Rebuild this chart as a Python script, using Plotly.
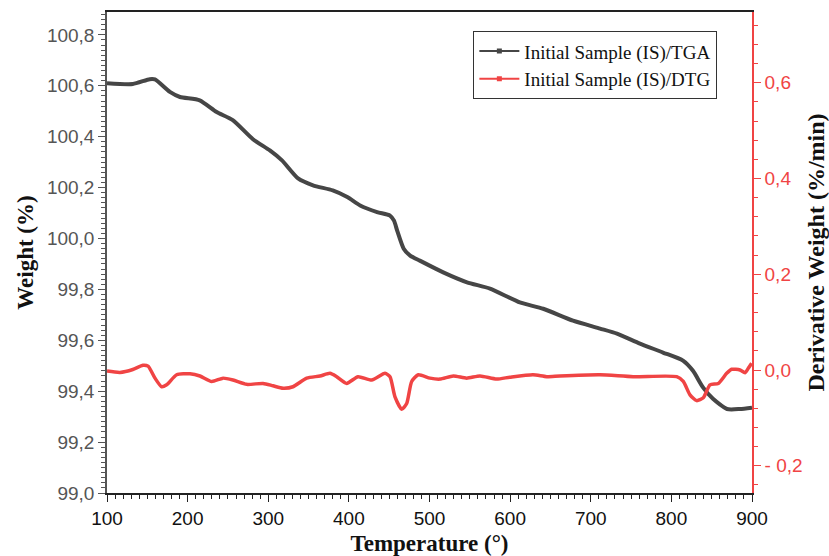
import plotly.graph_objects as go

# TGA curve (Weight %)
tga_T = [100, 132, 153, 159.5, 178, 190.5, 215, 236, 256, 281, 302, 317, 337, 355.5, 380, 398, 414, 435, 451,
         456, 460, 468, 476, 488, 517, 546.5, 575, 612, 641, 678, 711.5, 732.5, 761, 789.6, 814.4, 826.8,
         839.2, 851.6, 869, 885, 900]
tga_W = [100.61, 100.607, 100.626, 100.625, 100.576, 100.556, 100.543, 100.497, 100.465, 100.39, 100.346,
         100.307, 100.236, 100.209, 100.189, 100.163, 100.13, 100.104, 100.09,
         100.07, 100.03, 99.96, 99.933, 99.913, 99.867, 99.828, 99.803, 99.749, 99.724, 99.677, 99.646,
         99.626, 99.587, 99.552, 99.52, 99.48, 99.415, 99.37, 99.33, 99.33, 99.335]

# DTG curve (Derivative weight %/min)
dtg_T = [100, 116, 132, 144.6, 150.9, 159.5, 167.8, 174, 186.4, 203, 215.3, 229.9, 243.9, 256.3, 273.3,
         293.5, 305.9, 318.3, 330.7, 347.7, 364.2, 376.6, 384.9, 397.3, 411.3, 428.3, 444.8, 451, 457.2,
         465.5, 471.7, 477.9, 486.1, 500.6, 513, 529.5, 546.1, 562.6, 583.3, 599.8, 628.4, 645.3, 661.8,
         711.5, 752.4, 806.6, 814.8, 823.1, 831.4, 839.6, 847.9, 858.2, 868.6, 874.8, 885.1, 891.3, 895.4,
         899.6]
dtg_D = [-0.002, -0.005, 0.001, 0.010, 0.008, -0.017, -0.035, -0.031, -0.010, -0.008, -0.0125, -0.024,
         -0.017, -0.021, -0.030, -0.028, -0.033, -0.038, -0.035, -0.017, -0.0125, -0.007, -0.014, -0.028,
         -0.014, -0.021, -0.007, -0.014, -0.056, -0.082, -0.070, -0.024, -0.010, -0.017, -0.019, -0.0125,
         -0.017, -0.0125, -0.019, -0.015, -0.010, -0.014, -0.0125, -0.010, -0.014, -0.014, -0.024, -0.052,
         -0.064, -0.058, -0.031, -0.028, -0.007, 0.0015, 0.0, -0.0056, 0.0035, 0.014]

x_ticks = [100, 200, 300, 400, 500, 600, 700, 800, 900]
y_ticks = [99.0, 99.2, 99.4, 99.6, 99.8, 100.0, 100.2, 100.4, 100.6, 100.8]
y_tick_text = ["99,0", "99,2", "99,4", "99,6", "99,8", "100,0", "100,2", "100,4", "100,6", "100,8"]
y2_ticks = [-0.2, 0.0, 0.2, 0.4, 0.6]
y2_tick_text = ["- 0,2", "0,0", "0,2", "0,4", "0,6"]

TGA_COLOR = "#464646"
DTG_COLOR = "#f04444"
serif = "Liberation Serif, Times New Roman, serif"
sans = "Liberation Sans, Arial, sans-serif"

fig = go.Figure()
fig.add_trace(go.Scatter(x=tga_T, y=tga_W, mode="lines", line=dict(color=TGA_COLOR, width=4, shape="spline", smoothing=0.6),
                         showlegend=False, yaxis="y"))
fig.add_trace(go.Scatter(x=dtg_T, y=dtg_D, mode="lines", line=dict(color=DTG_COLOR, width=3.5, shape="spline", smoothing=0.6),
                         showlegend=False, yaxis="y2"))
# legend entries (line + square marker)
fig.add_trace(go.Scatter(x=[None], y=[None], mode="lines+markers", name="Initial Sample (IS)/TGA",
                         line=dict(color=TGA_COLOR, width=2), marker=dict(symbol="square", size=5, color=TGA_COLOR)))
fig.add_trace(go.Scatter(x=[None], y=[None], mode="lines+markers", name="Initial Sample (IS)/DTG",
                         line=dict(color=DTG_COLOR, width=2), marker=dict(symbol="square", size=5, color=DTG_COLOR),
                         yaxis="y2"))

fig.update_layout(
    width=829, height=556,
    margin=dict(l=107, r=77, t=12, b=63),
    plot_bgcolor="white", paper_bgcolor="white",
    xaxis=dict(range=[100, 900], tickvals=x_ticks, ticks="outside", ticklen=7, tickcolor="#222", automargin=False,
               showline=True, linecolor="#222", linewidth=1.5, mirror=True, showgrid=False, zeroline=False,
               tickfont=dict(family=sans, size=19, color="#111"),
               minor=dict(dtick=10, ticks="outside", ticklen=4, tickcolor="#222", showgrid=False),
               title=dict(text="<b>Temperature (°)</b>", font=dict(family=serif, size=23, color="#111"), standoff=10)),
    yaxis=dict(range=[99.0, 100.89], tickvals=y_ticks, ticktext=y_tick_text, ticks="outside", ticklen=7,
               automargin=False,
               tickcolor="#555", showline=True, linecolor="#555", linewidth=1.5, showgrid=False, zeroline=False,
               tickfont=dict(family=sans, size=19, color="#555"),
               minor=dict(dtick=0.02, ticks="outside", ticklen=4, tickcolor="#555", showgrid=False),
               title=dict(text="<b>Weight (%)</b>", font=dict(family=serif, size=23, color="#111"), standoff=7)),
    yaxis2=dict(range=[-0.257, 0.748], overlaying="y", side="right", tickvals=y2_ticks, ticktext=y2_tick_text,
                automargin=False,
                ticks="outside", ticklen=7, tickcolor=DTG_COLOR, showline=True, linecolor=DTG_COLOR, linewidth=1.5,
                showgrid=False, zeroline=False, tickfont=dict(family=sans, size=19, color=DTG_COLOR),
                minor=dict(dtick=0.04, ticks="outside", ticklen=4, tickcolor=DTG_COLOR, showgrid=False),
                title=dict(text="<b>Derivative Weight (%/min)</b>", font=dict(family=serif, size=24, color="#111"),
                           standoff=9)),
    legend=dict(x=0.568, y=0.96, xanchor="left", yanchor="top", bgcolor="white", bordercolor="#333",
                borderwidth=1, font=dict(family=serif, size=19, color="#111"), tracegroupgap=0,
                itemwidth=40),
)

fig.write_html("out.html")
